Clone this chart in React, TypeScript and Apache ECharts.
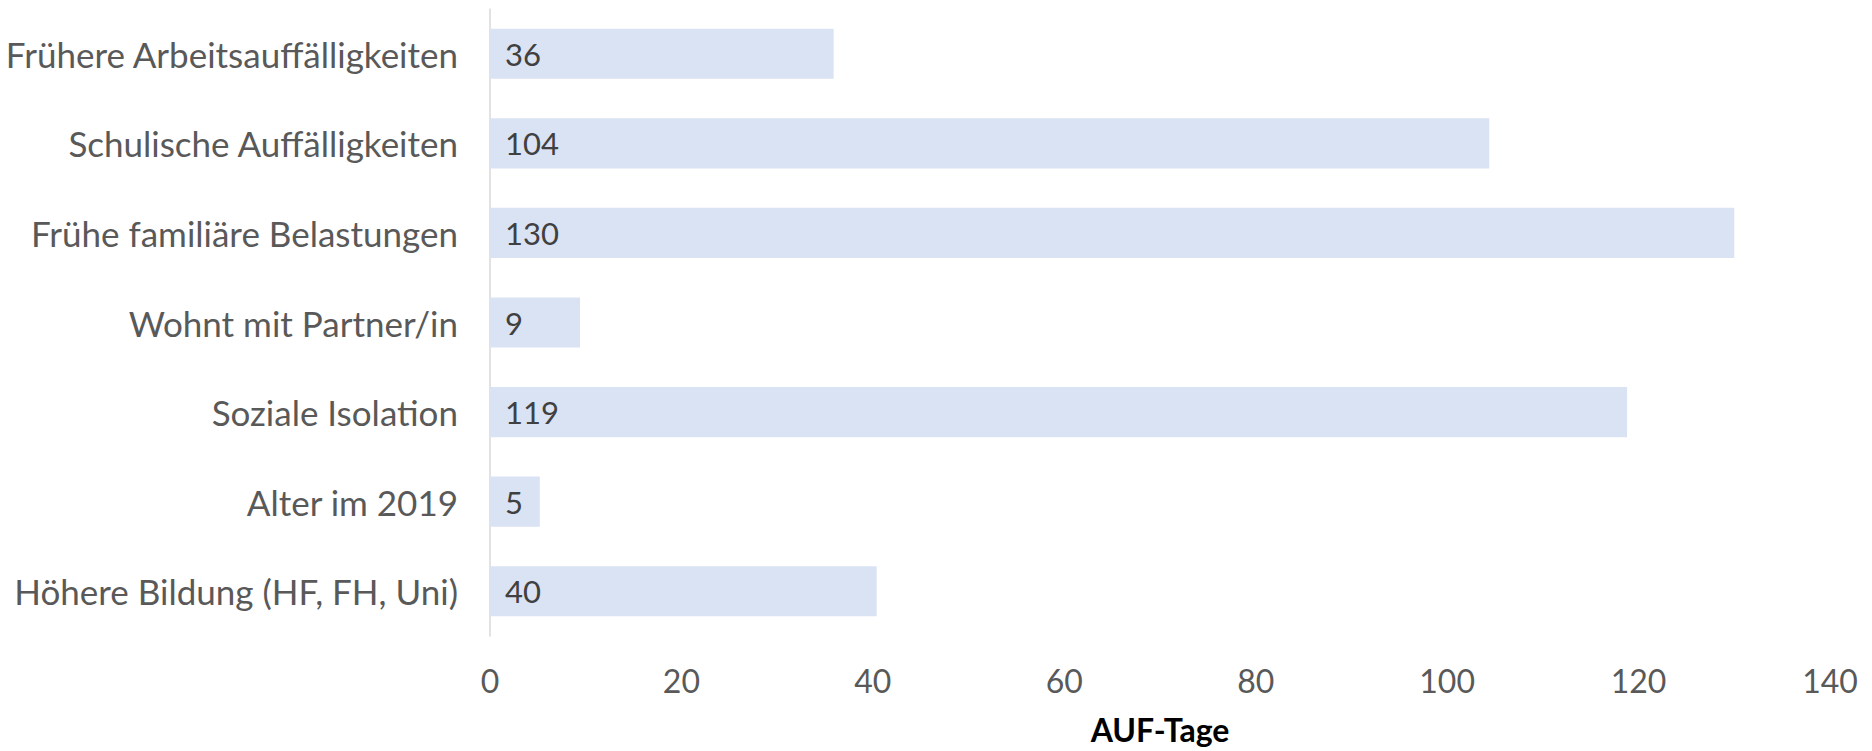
import React, { useEffect, useRef } from "react";
import * as echarts from "echarts";

const categories = [
  "Frühere Arbeitsauffälligkeiten",
  "Schulische Auffälligkeiten",
  "Frühe familiäre Belastungen",
  "Wohnt mit Partner/in",
  "Soziale Isolation",
  "Alter im 2019",
  "Höhere Bildung (HF, FH, Uni)",
];
const values = [35.9, 104.4, 130, 9.4, 118.8, 5.2, 40.4];
const axisName = "AUF-Tage";

const FONT = "Lato, 'Open Sans', sans-serif";

export default function App() {
  const ref = useRef<HTMLDivElement>(null);
  useEffect(() => {
    if (!ref.current) return;
    const chart = echarts.init(ref.current, undefined, { renderer: "svg" });
    chart.setOption({
      animation: false,
      backgroundColor: "#ffffff",
      grid: {
        left: 490,
        right: 42,
        top: 9,
        bottom: 115,
        containLabel: false,
        outerBoundsMode: "none",
      },
      xAxis: {
        type: "value",
        min: 0,
        max: 140,
        interval: 20,
        name: axisName,
        nameLocation: "middle",
        nameGap: 77,
        nameTextStyle: { fontFamily: FONT, fontSize: 32, fontWeight: "bold", color: "#000000" },
        axisLine: { show: false },
        axisTick: { show: false },
        splitLine: { show: false },
        axisLabel: { fontFamily: FONT, fontSize: 32, color: "#595959", margin: 28 },
      },
      yAxis: {
        type: "category",
        data: categories,
        inverse: true,
        axisLine: { show: true, lineStyle: { color: "#D9D9D9", width: 1.5 } },
        axisTick: { show: false },
        splitLine: { show: false },
        axisLabel: { fontFamily: FONT, fontSize: 35, color: "#595959", margin: 32 },
      },
      series: [
        {
          type: "bar",
          data: values,
          barWidth: "56%",
          itemStyle: { color: "#DAE3F3" },
          label: {
            show: true,
            position: "insideLeft",
            distance: 15,
            fontFamily: FONT,
            fontSize: 31,
            color: "#404040",
            formatter: (p: any) => String(Math.round(p.value)),
          },
        },
      ],
    });
    return () => chart.dispose();
  }, []);
  return (
    <div
      ref={ref}
      style={{ position: "fixed", left: 0, top: 0, width: 1872, height: 751 }}
    />
  );
}
